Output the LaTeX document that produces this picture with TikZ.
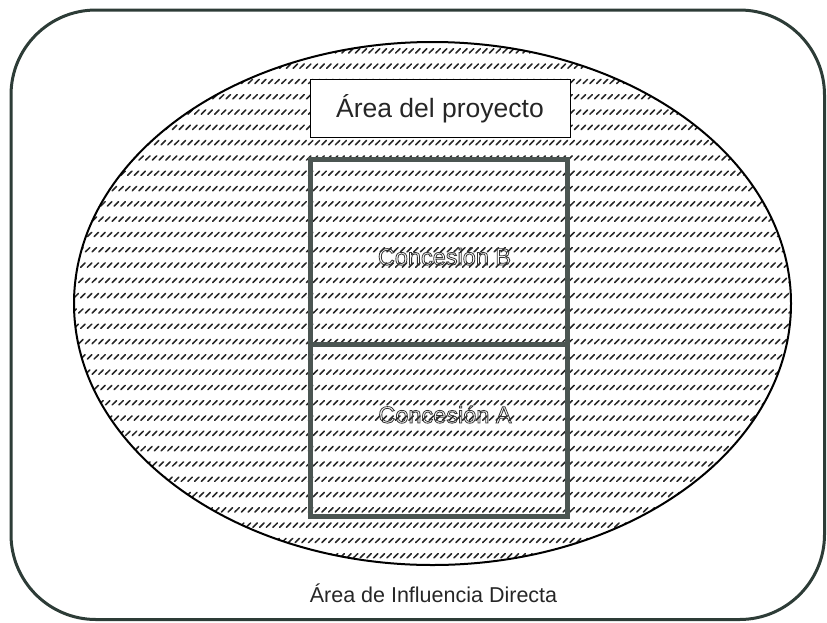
\documentclass[tikz,border=0pt]{standalone}
\usepackage{fontspec}
\setmainfont{Liberation Sans}
\definecolor{framegreen}{RGB}{45,60,55}
\definecolor{concgray}{RGB}{75,85,82}
\definecolor{txtgray}{RGB}{50,50,50}
\newcommand{\hollowtext}[1]{\special{pdf:literal 1 Tr 0.8 w}#1\special{pdf:literal 0 Tr}}
\tikzset{
  outerframe/.style={draw=framegreen, line width=3pt, rounded corners=85pt},
  ovalline/.style={draw=black, line width=2pt},
  hatchline/.style={draw=black!85, line width=1.55pt, line cap=round},
  labelbox/.style={draw=black, line width=1.2pt, fill=white},
  concbox/.style={draw=concgray, line width=4.5pt},
  bigtext/.style={font=\fontsize{26.5}{31}\selectfont, text=black!85},
  conctext/.style={font=\fontsize{23.5}{28}\selectfont, text=txtgray},
  smalltext/.style={font=\fontsize{21.5}{26}\selectfont, text=black!85}
}
\begin{document}
\begin{tikzpicture}[x=1pt,y=-1pt]
\useasboundingbox (0,0) rectangle (827,622);
% outer frame
\draw[outerframe] (11,10) rectangle (824.5,619.5);
% hatched oval
\begin{scope}
  \clip (432.5,303.5) ellipse [x radius=358.5, y radius=261.5];
  \draw[hatchline] foreach \r [evaluate=\r as \sh using {mod(\r,2)*2}] in {0,...,36} { foreach \c in {0,...,110} {
      ({72+\c*6.7+\sh}, {37.7+\r*15.3}) -- ++(4.4,-4.3) } };
\end{scope}
\draw[ovalline] (432.5,303.5) coordinate (oc) ellipse [x radius=358.5, y radius=261.5];
% project area label
\node[labelbox, minimum width=260pt, minimum height=58pt, anchor=north west, inner sep=0pt] (lbl) at (310,79) {};
\node[bigtext, anchor=base] (lbltxt) at (440,117) {Área del proyecto};
% concessions
\node[concbox, minimum width=257pt, minimum height=185pt, anchor=north west, inner sep=0pt] (concB) at (308,157) {};
\node[concbox, minimum width=257pt, minimum height=172pt, anchor=north west, inner sep=0pt] (concA) at (308,342) {};
\node[conctext, anchor=base] (concBtxt) at (444.5,265) {\hollowtext{Concesión B}};
\node[conctext, anchor=base] (concAtxt) at (445,423) {\hollowtext{Concesión A}};
% influence area label
\node[smalltext, anchor=base] (aid) at (433.5,602) {Área de Influencia Directa};
\end{tikzpicture}
\end{document}
